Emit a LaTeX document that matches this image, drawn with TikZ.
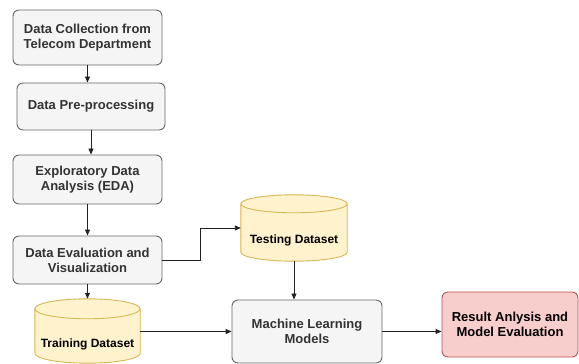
\documentclass[tikz,border=0pt]{standalone}
\usepackage{fontspec}
\setmainfont{Liberation Sans}
\usetikzlibrary{arrows.meta,calc}
\definecolor{gfill}{HTML}{F5F5F5}
\definecolor{gdraw}{HTML}{666666}
\definecolor{gtext}{HTML}{333333}
\definecolor{yfill}{HTML}{FFF2CC}
\definecolor{ydraw}{HTML}{D6B656}
\definecolor{rfill}{HTML}{F8CECC}
\definecolor{rdraw}{HTML}{B85450}
\definecolor{lcol}{HTML}{222222}
\tikzset{
  procbox/.style={draw=gdraw, fill=gfill, rounded corners=6pt, line width=0.9pt,
    text=gtext, align=center, font=\bfseries\fontsize{13}{15}\selectfont, inner sep=0pt},
  resbox/.style={draw=rdraw, fill=rfill, rounded corners=6pt, line width=0.9pt,
    text=black, align=center, font=\bfseries\fontsize{13}{15}\selectfont, inner sep=0pt},
  cylnode/.style={draw=none, inner sep=0pt},
  cyltext/.style={text=black, font=\bfseries\fontsize{12}{14}\selectfont, inner sep=0pt},
  cylstyle/.style={draw=ydraw, fill=yfill, line width=0.9pt},
  conn/.style={draw=lcol, line width=0.9pt, -{Triangle[length=6pt,width=5pt]}}
}
\newcommand\mycyl[2]{%
  \path let \p1=(#1.north west), \p2=(#1.south east), \n1={(\x2-\x1)/2} in
    [cylstyle] (\x1,\y1-#2pt) -- (\x1,\y2+#2pt)
      arc[start angle=180,end angle=360,x radius=\n1,y radius=#2pt]
      -- (\x2,\y1-#2pt)
      arc[start angle=0,end angle=180,x radius=\n1,y radius=#2pt] -- cycle;
  \draw let \p1=(#1.north west), \p2=(#1.south east), \n1={(\x2-\x1)/2} in
    [draw=ydraw, line width=0.9pt] (\x1,\y1-#2pt)
      arc[start angle=180,end angle=360,x radius=\n1,y radius=#2pt];
}
\begin{document}
\begin{tikzpicture}[x=1pt,y=1pt]
\useasboundingbox (0,0) rectangle (579,364);
% process boxes
\node[procbox, minimum width=149pt, minimum height=55pt] (b1) at (87.5,326.5) {Data Collection from\\Telecom Department};
\node[procbox, minimum width=148pt, minimum height=47pt] (b2) at (91,257.5) {Data Pre-processing};
\node[procbox, minimum width=149pt, minimum height=49pt] (b3) at (87.5,184.5) {Exploratory Data\\Analysis (EDA)};
\node[procbox, minimum width=149pt, minimum height=48pt] (b4) at (87.5,104) {Data Evaluation and\\Visualization};
% cylinders
\node[cylnode, minimum width=105pt, minimum height=64pt] (tr) at (87.5,33) {};
\mycyl{tr}{10}
\node[cyltext] at ([yshift=-13pt]tr.center) {Training Dataset};
\node[cylnode, minimum width=106pt, minimum height=66pt] (te) at (294,136) {};
\mycyl{te}{9}
\node[cyltext] at ([yshift=-12pt]te.center) {Testing Dataset};
% ML and result
\node[procbox, minimum width=150pt, minimum height=63pt] (ml) at (307,32.5) {Machine Learning\\Models};
\node[resbox, minimum width=136pt, minimum height=65pt] (res) at (510,39.5) {Result Anlysis and\\Model Evaluation};
% connectors
\draw[conn] (b1.south) -- (b1.south |- b2.north);
\draw[conn] (b2.south) -- (b2.south |- b3.north);
\draw[conn] (b3.south) -- (b4.north);
\draw[conn] (b4.south) -- (tr.north);
\draw[conn] (b4.east) -- (200,104) -- (200,136) -- (te.west);
\draw[conn] (te.south) -- (te.south |- ml.north);
\draw[conn] (ml.west -| tr.east) -- (ml.west);
\draw[conn] (ml.east) -- (ml.east -| res.west);
\end{tikzpicture}
\end{document}
